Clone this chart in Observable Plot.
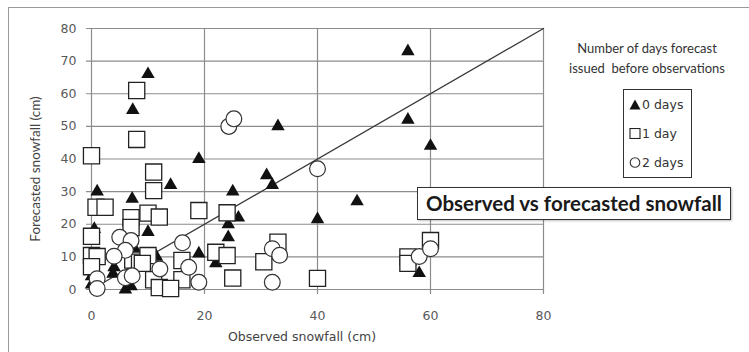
<!DOCTYPE html>
<html>
<head>
<meta charset="utf-8">
<script src="https://cdn.jsdelivr.net/npm/d3@7"></script>
<script src="https://cdn.jsdelivr.net/npm/@observablehq/plot@0.6"></script>
<style>
  body { margin: 0; background: #fff; }
  #wrap { position: relative; width: 749px; height: 352px; overflow: hidden; background: #fff; }
  #frame { position: absolute; left: 8px; top: 7px; width: 800px; height: 400px; border: 1px solid #9a9a9a; }
  .ttl { position: absolute; white-space: nowrap; }
  #ytitle { font-family: Lato, sans-serif; font-size: 13.5px; color: #444; left: 35px; top: 169px; transform: translate(-50%, -50%) rotate(-90deg); }
  #xtitle { font-family: "DejaVu Sans", sans-serif; font-size: 12.5px; color: #444; left: 302px; top: 336px; transform: translate(-50%, -50%); }
  #legtitle { font-family: Lato, sans-serif; font-size: 13px; color: #333; left: 647px; top: 38px; transform: translateX(-50%); text-align: center; line-height: 20px; }
  #legbox { position: absolute; left: 623px; top: 89px; width: 67px; height: 87px; border: 1.5px solid #333; background: #fff; font-family: "DejaVu Sans", sans-serif; font-size: 12.5px; color: #333; }
  .li { position: absolute; left: 5px; white-space: nowrap; line-height: 16px; }
  .li svg { vertical-align: -1px; margin-right: 1px; }
  #titlebox { position: absolute; left: 417px; top: 187px; width: 312px; height: 31px; border: 1.5px solid #333; background: #fff; box-shadow: 1px 1px 2px rgba(0,0,0,0.25); font-family: Lato, sans-serif; font-weight: bold; font-size: 20.5px; color: #1a1a1a; text-align: center; line-height: 31px; }
</style>
</head>
<body>
<div id="wrap">
  <div id="frame"></div>
  <div id="chart"></div>
  <div id="ytitle" class="ttl">Forecasted snowfall (cm)</div>
  <div id="xtitle" class="ttl">Observed snowfall (cm)</div>
  <div id="legtitle" class="ttl">Number of days forecast<br>issued&nbsp; before observations</div>
  <div id="legbox">
    <div class="li" style="top:7px"><svg width="12" height="11"><path d="M6,0.5L11.5,10.5L0.5,10.5Z" fill="#111"/></svg>0 days</div>
    <div class="li" style="top:36px"><svg width="12" height="11"><rect x="1" y="0.5" width="10" height="10" fill="#fff" stroke="#222" stroke-width="1.1"/></svg>1 day</div>
    <div class="li" style="top:65px"><svg width="12" height="11"><circle cx="6" cy="5.5" r="4.8" fill="#fff" stroke="#333" stroke-width="1.1"/></svg>2 days</div>
  </div>
  <div id="titlebox">Observed vs forecasted snowfall</div>
</div>
<script>
// Tick labels
const xTicks = [0, 20, 40, 60, 80];
const yTicks = [0, 10, 20, 30, 40, 50, 60, 70, 80];
// 1:1 reference line endpoints
const diagonal = [0, 80];

// 0 days (triangles): observed, forecasted
const obs0 = [56, 56, 60, 47, 40, 33, 31, 32, 25, 26, 24.2, 24.2, 22, 58, 19, 10, 7.3, 14, 10, 19, 1, 7.2, 7.8, 4, 3.8, 6, 7, 0, 0, 16.5, 11.5, 0.5];
const fc0  = [73, 52, 44, 27, 21.5, 50, 35, 32, 30, 22, 20, 16, 8, 5, 40, 66, 55, 32, 17.6, 11, 30, 27.8, 12, 6.8, 4.8, 0, 1, 4, 1.5, 8, 10, 18.5];

// 1 day (squares)
const obs1 = [8, 8, 0, 11, 11, 0.8, 2.4, 7, 7, 10, 12, 19, 24, 0, 0, 1, 0, 7.3, 8.5, 10, 9, 16, 16, 11, 12, 14, 22, 24, 25, 30.5, 33, 40, 56, 56, 60];
const fc1  = [61, 46, 41, 36, 30.3, 25.2, 25.2, 22, 19, 23.4, 22.2, 24.2, 23.5, 16.3, 10.4, 10.1, 7, 9, 8.4, 10.4, 8, 8.9, 3, 3, 0.6, 0.3, 11.4, 10.4, 3.5, 8.5, 14.5, 3.4, 10, 8, 15];

// 2 days (circles)
const obs2 = [24.3, 25.2, 40, 5, 7, 6, 4, 16.1, 17.2, 12.1, 19, 1, 1, 6, 7.2, 32, 33.3, 32, 58, 60];
const fc2  = [50, 52.3, 37, 16, 15, 12, 10.2, 14.3, 6.8, 6.3, 2.2, 3.3, 0.3, 3.6, 4.2, 12.5, 10.5, 2.2, 10.1, 12.5];

const chart = Plot.plot({
  width: 749,
  height: 352,
  marginLeft: 91,
  marginRight: 206,
  marginTop: 28,
  marginBottom: 63,
  style: { fontFamily: "'DejaVu Sans', sans-serif", fontSize: "12.5px", color: "#595959", background: "transparent", overflow: "visible" },
  x: { domain: [0, 80], ticks: xTicks, tickSize: 0, tickPadding: 22, label: null, tickFormat: d => String(d) },
  y: { domain: [0, 80], ticks: yTicks, tickSize: 0, tickPadding: 15, label: null, tickFormat: d => String(d) },
  marks: [
    Plot.ruleY(yTicks, { stroke: "#8c8c8c", strokeWidth: 1.2, insetLeft: -5 }),
    Plot.ruleX(xTicks, { stroke: "#8c8c8c", strokeWidth: 1.2, insetBottom: -5 }),
    Plot.line(diagonal, { x: d => d, y: d => d, stroke: "#3a3a3a", strokeWidth: 1.3 }),
    Plot.dot(obs0, { x: obs0, y: fc0, symbol: "triangle", r: 5, fill: "#111", stroke: "none" }),
    Plot.dot(obs1, { x: obs1, y: fc1, symbol: "square", r: 9.1, fill: "#fff", stroke: "#222", strokeWidth: 1.3 }),
    Plot.dot(obs2, { x: obs2, y: fc2, symbol: "circle", r: 7.9, fill: "#fff", stroke: "#333", strokeWidth: 1.2 })
  ]
});
document.getElementById("chart").appendChild(chart);
</script>
</body>
</html>
